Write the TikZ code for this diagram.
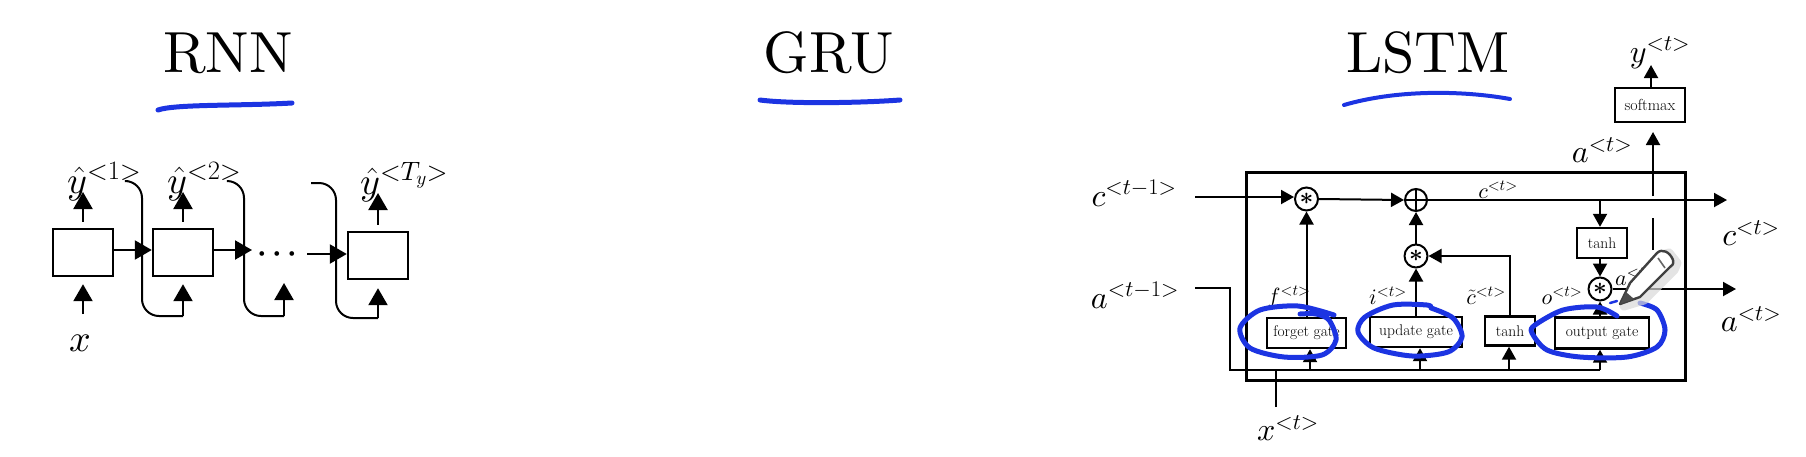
\documentclass[tikz,border=0pt]{standalone}
\usepackage{fix-cm}
\usepackage{amsmath}
\usepackage{fontspec}
\usepackage{tikz}
\usetikzlibrary{arrows.meta,positioning}
\definecolor{penblue}{RGB}{28,52,226}
\DeclareFontShape{OML}{cmm}{m}{it}{<-> cmmi10}{}
\font\titlefont=cmr10 at 58pt

\begin{document}
\begin{tikzpicture}[
    x=1pt, y=-1pt,
    heading/.style={font=\titlefont, anchor=base, inner sep=0pt},
    mathlabel/.style={font=\fontsize{38}{42}\selectfont, anchor=base west, inner sep=0pt},
    biglabel/.style={font=\fontsize{32}{36}\selectfont, inner sep=0pt},
    smalllabel/.style={font=\fontsize{22}{24}\selectfont, inner sep=0pt},
    cell/.style={draw, line width=2.4pt, minimum width=60pt, minimum height=47pt, inner sep=0pt},
    gatebox/.style={draw, line width=2.4pt, fill=white, inner sep=0pt, font=\fontsize{15.5}{17}\selectfont},
    opnode/.style={draw, circle, line width=2pt, fill=white, minimum size=23pt, inner sep=0pt,
                   font=\boldmath\fontsize{24}{26}\selectfont},
    wire/.style={draw, line width=2pt},
    flow/.style={draw, line width=2pt, -{Triangle[length=13pt,width=14pt]}},
    bigflow/.style={draw, line width=2.2pt, -{Triangle[length=17pt,width=19pt]}},
    curve/.style={draw, line width=2pt, rounded corners=17pt},
    ink/.style={draw=penblue, line width=5pt, line cap=round, line join=round}
  ]
    \useasboundingbox (0,0) rectangle (1806,456);

    % titles
    \node[heading] (rnntitle) at (228,72) {RNN};
    \node[heading] (grutitle) at (829,72) {GRU};
    \node[heading] (lstmtitle) at (1428,72) {LSTM};
    \draw[ink] (158,110) .. controls (175,104) and (240,106) .. (292,103);
    \draw[ink] (760,100) .. controls (790,104) and (860,103) .. (900,100);
    \draw[ink, line width=4pt] (1344,105) .. controls (1395,90) and (1460,90) .. (1510,99);

    % rnn chain
    \node[cell] (cella) at (83,252.5) {};
    \node[cell] (cellb) at (183,252.5) {};
    \node[cell] (cellc) at (378,255.5) {};
    \node[font=\boldmath\fontsize{30}{34}\selectfont, inner sep=0pt] (dots) at (280,254) {$\cdots$};

    \node[mathlabel] (yhata) at (67,193) {$\hat{y}^{<1>}$};
    \node[mathlabel] (yhatb) at (167,193) {$\hat{y}^{<2>}$};
    \node[mathlabel] (yhatc) at (360,194) {$\hat{y}^{<T_y>}$};
    \node[font=\fontsize{38}{42}\selectfont, inner sep=0pt] (xin) at (80,343) {$x$};

    \coordinate (upa) at (83,192);
    \coordinate (upb) at (183,192);
    \coordinate (upc) at (378,193);
    \coordinate (ina) at (83,314);
    \coordinate (dotsin) at (307,254);
    \coordinate (dotsout) at (252,250);
    \coordinate (topa) at (128,181);
    \coordinate (lowa) at (142,316);
    \coordinate (joinb) at (183,316);
    \coordinate (topb) at (228,181);
    \coordinate (lowb) at (244,316);
    \coordinate (joinc) at (284,316);
    \coordinate (headc) at (284,283);
    \coordinate (topc) at (311,183);
    \coordinate (lowc) at (336,318);
    \coordinate (joind) at (378,318);

    \draw[bigflow, shorten <=6pt] (cella.north) -- (upa);
    \draw[bigflow, shorten <=6pt] (cellb.north) -- (upb);
    \draw[bigflow, shorten <=6pt] (cellc.north) -- (upc);
    \draw[bigflow, shorten >=7pt] (ina) -- (cella.south);
    \draw[bigflow] (cella.east |- 0,250) -- (cellb.west |- 0,250);
    \draw[bigflow] (cellb.east |- 0,250) -- (dotsout);
    \draw[bigflow] (dotsin) -- (cellc.west |- 0,254);
    \draw[curve] (topa) -| (lowa) -- (joinb);
    \draw[curve] (topb) -| (lowb) -- (joinc);
    \draw[curve] (topc) -| (lowc) -- (joind);
    \draw[bigflow, shorten >=7pt] (joinb) -- (cellb.south);
    \draw[bigflow] (joinc) -- (headc);
    \draw[bigflow, shorten >=8pt] (joind) -- (cellc.south);

    % lstm cell
    \node[draw, line width=3pt, minimum width=439pt, minimum height=208pt, inner sep=0pt] (frame) at (1465.5,276) {};
    \node[opnode] (starf) at (1306.5,199) {$*$};
    \node[opnode, minimum size=22pt, path picture={
        \draw[line width=2pt] (path picture bounding box.north) -- (path picture bounding box.south);
        \draw[line width=2pt] (path picture bounding box.west) -- (path picture bounding box.east);
      }] (plusc) at (1416,200) {};
    \node[opnode] (stari) at (1416,256) {$*$};
    \node[opnode] (staro) at (1600,289) {$*$};
    \node[gatebox, minimum width=50pt, minimum height=30pt] (tanho) at (1602,243) {tanh};
    \node[gatebox, minimum width=70pt, minimum height=34pt, font=\fontsize{16}{18}\selectfont] (softmax) at (1650,105) {softmax};
    \node[gatebox, minimum width=79pt, minimum height=30pt] (forget) at (1306.5,333) {forget gate};
    \node[gatebox, minimum width=92pt, minimum height=30pt] (update) at (1416,332) {update gate};
    \node[gatebox, minimum width=50pt, minimum height=29pt] (tanhc) at (1510,331) {tanh};
    \node[gatebox, minimum width=94pt, minimum height=31pt] (output) at (1602,333) {output gate};

    \node[biglabel] (cprev) at (1134,193) {$c^{<t-1>}$};
    \node[biglabel] (aprev) at (1135,295) {$a^{<t-1>}$};
    \node[biglabel] (cnext) at (1751,233) {$c^{<t>}$};
    \node[biglabel] (anext) at (1751,319) {$a^{<t>}$};
    \node[biglabel] (xt) at (1288,428) {$x^{<t>}$};
    \node[biglabel] (at) at (1602,150) {$a^{<t>}$};
    \node[biglabel] (yt) at (1660,53) {$y^{<t>}$};
    \node[smalllabel] (ctop) at (1498,190) {$c^{<t>}$};
    \node[smalllabel] (ft) at (1289,297) {$f^{<t>}$};
    \node[smalllabel] (it) at (1388,296) {$i^{<t>}$};
    \node[smalllabel] (cbar) at (1486,296) {$\tilde{c}^{<t>}$};
    \node[smalllabel] (ot) at (1562,296) {$o^{<t>}$};
    \node[smalllabel, anchor=west] (ahid) at (1615,277) {$a^{<t>}$};

    \coordinate (cstart) at (1195,197);
    \coordinate (cend) at (1727,200);
    \coordinate (cdrop) at (1600,200);
    \coordinate (astart) at (1195,288);
    \coordinate (akink) at (1230,370);
    \coordinate (aend) at (1600,370);
    \coordinate (xstart) at (1276,407);
    \coordinate (xjoin) at (1276,370);
    \coordinate (jforget) at (1310,370);
    \coordinate (jupdate) at (1420,370);
    \coordinate (jtanh) at (1509,370);
    \coordinate (oend) at (1736,289);
    \coordinate (alow) at (1653,250);
    \coordinate (amid) at (1653,218);
    \coordinate (aup) at (1653,196);
    \coordinate (atop) at (1653,132);
    \coordinate (ytop) at (1651,65);

    \draw[flow] (cstart) -- (starf.west |- cstart);
    \draw[flow] (starf.east) -- (plusc.west);
    \draw[flow] (plusc.east) -- (cend);
    \draw[flow] (cdrop) -- (tanho.north -| cdrop);
    \draw[flow] (tanho.south -| staro) -- (staro.north);
    \draw[flow] (forget.north) -- (starf.south);
    \draw[flow] (update.north -| stari) -- (stari.south);
    \draw[flow] (stari.north) -- (plusc.south);
    \draw[flow] (tanhc.north) |- (stari.east);
    \draw[flow] (output.north -| staro) -- (staro.south);
    \draw[flow] (staro.east) -- (oend);
    \draw[wire] (alow) -- (amid);
    \draw[flow] (aup) -- (atop);
    \draw[flow] (softmax.north -| ytop) -- (ytop);
    \draw[wire] (astart) -| (akink) -- (aend);
    \draw[wire] (xstart) -- (xjoin);
    \draw[flow] (jforget) -- (forget.south -| jforget);
    \draw[flow] (jupdate) -- (update.south -| jupdate);
    \draw[flow] (jtanh) -- (tanhc.south -| jtanh);
    \draw[flow] (aend) -- (output.south -| aend);

    % pen strokes round the gates
    \draw[ink] plot[smooth] coordinates {(1334,315) (1298,306) (1260,310) (1240,328) (1250,348) (1284,357) (1322,355) (1336,340) (1329,320) (1316,314) (1300,314)};
    \draw[ink] plot[smooth] coordinates {(1431,308) (1427,305) (1393,305) (1365,317) (1358,332) (1374,348) (1412,356) (1448,352) (1462,337) (1453,318) (1431,308)};
    \draw[ink] plot[smooth] coordinates {(1617,316) (1597,307) (1563,310) (1535,325) (1532,333) (1547,350) (1580,357) (1627,357) (1657,347) (1665,330) (1657,310) (1640,303)};
    \draw[ink, line width=2.5pt] (1610,303) -- (1617,301);

    % pencil cursor
    \draw[line width=9pt, white!85!black, line join=round, opacity=0.7]
      (1624,306) -- (1634,285) -- (1661,255) -- (1669,253) -- (1677,263) -- (1674,270) -- (1644,300) -- cycle;
    \draw[line width=2.4pt, black!75, fill=white, line join=round]
      (1620,304) -- (1630,283) -- (1657,253) .. controls (1662,248) and (1670,252) .. (1673,260)
      .. controls (1674,264) and (1672,266) .. (1670,267) -- (1640,297) -- cycle;
    \draw[line width=1.6pt, black!60] (1658,258) -- (1665,268);
    \fill[black!70] (1620,304) -- (1626,292) -- (1634,299) -- cycle;
\end{tikzpicture}
\end{document}
